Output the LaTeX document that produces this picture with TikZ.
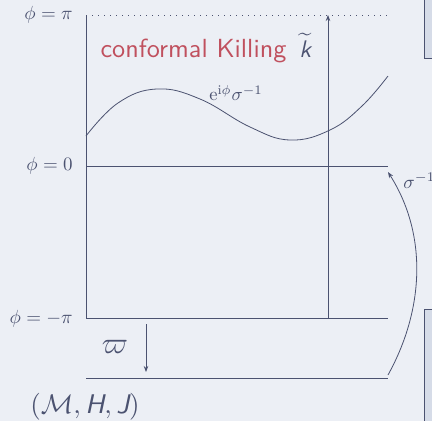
\documentclass[tikz,border=0pt]{standalone}
\usetikzlibrary{arrows.meta}
\definecolor{bgc}{HTML}{ECEFF5}
\definecolor{ink}{HTML}{4B5270}
\definecolor{redc}{HTML}{C0505E}
\definecolor{boxc}{HTML}{D6DCE8}
\begin{document}
\begin{tikzpicture}[x=1pt,y=-1pt,
  ln/.style={draw=ink,line width=0.8pt},
  arr/.style={ln,-{Stealth[length=6pt,width=4.5pt]}},
  lab/.style={text=ink,inner sep=0pt,scale=1.9},
  sidebox/.style={draw=ink,fill=boxc,line width=1pt}]
\fill[bgc] (0,0) rectangle (432,421);
\useasboundingbox (0,0) rectangle (432,421);
\clip (0,0) rectangle (432,421);
% side boxes
\draw[sidebox] (424,-5) rectangle (445,58);
\draw[sidebox] (424,309) rectangle (445,430);
% coordinates
\coordinate (tl) at (86,15);
\coordinate (tr) at (388,15);
\coordinate (ml) at (86,166);
\coordinate (mr) at (388,166);
\coordinate (bl) at (86,318);
\coordinate (br) at (388,318);
\coordinate (ll) at (86,378);
\coordinate (lr) at (388,378);
\coordinate (ab) at (328,318);
\coordinate (at) at (328,15);
\coordinate (ws) at (146,324);
\coordinate (we) at (146,372);
\coordinate (ss) at (388,375);
\coordinate (se) at (388,172);
% lines
\draw[ink,line width=0.6pt,dash pattern=on 0.8pt off 5.2pt] (tl) -- (tr);
\draw[ln,line width=1pt] (tl) -- (bl);
\draw[ln] (ml) -- (mr);
\draw[ln] (bl) -- (br);
\draw[ln] (ll) -- (lr);
\draw[arr] (ab) -- (at);
\draw[arr] (ws) -- (we);
\draw[arr] (ss) .. controls (424,310) and (428,235) .. (se);
% curve
\draw[ln] plot[smooth,tension=0.7] coordinates {(86,136) (118,103) (157,89) (200,99) (250,127) (290,140) (330,130) (362,106) (388,76)};
% labels
\node[lab,anchor=east] (lpi) at (73,15) {$\phi=\pi$};
\node[lab,anchor=east] (lzero) at (73,166) {$\phi=0$};
\node[lab,anchor=east] (lmpi) at (73,319) {$\phi=-\pi$};
\node[anchor=base west,inner sep=0pt,text=redc,font=\sffamily,scale=2.62] (ck) at (100,57) {conformal Killing};
\node[anchor=base west,inner sep=0pt,text=ink,scale=2.4] (kt) at (299,57) {$\widetilde{\textsf{\itshape k}}$};
\node[lab,scale=1.85/1.9] (exp) at (236,93) {$\mathrm{e}^{\mathrm{i}\phi}\sigma^{-1}$};
\node[lab,scale=3.05/1.9] (vp) at (115,347) {$\varpi$};
\node[lab,anchor=west] (sig) at (403,181) {$\sigma^{-1}$};
\node[lab,scale=2.7/1.9] (mhj) at (85,407) {$(\mathcal{M},\textsf{\itshape H},\textsf{\itshape J})$};
\end{tikzpicture}
\end{document}
